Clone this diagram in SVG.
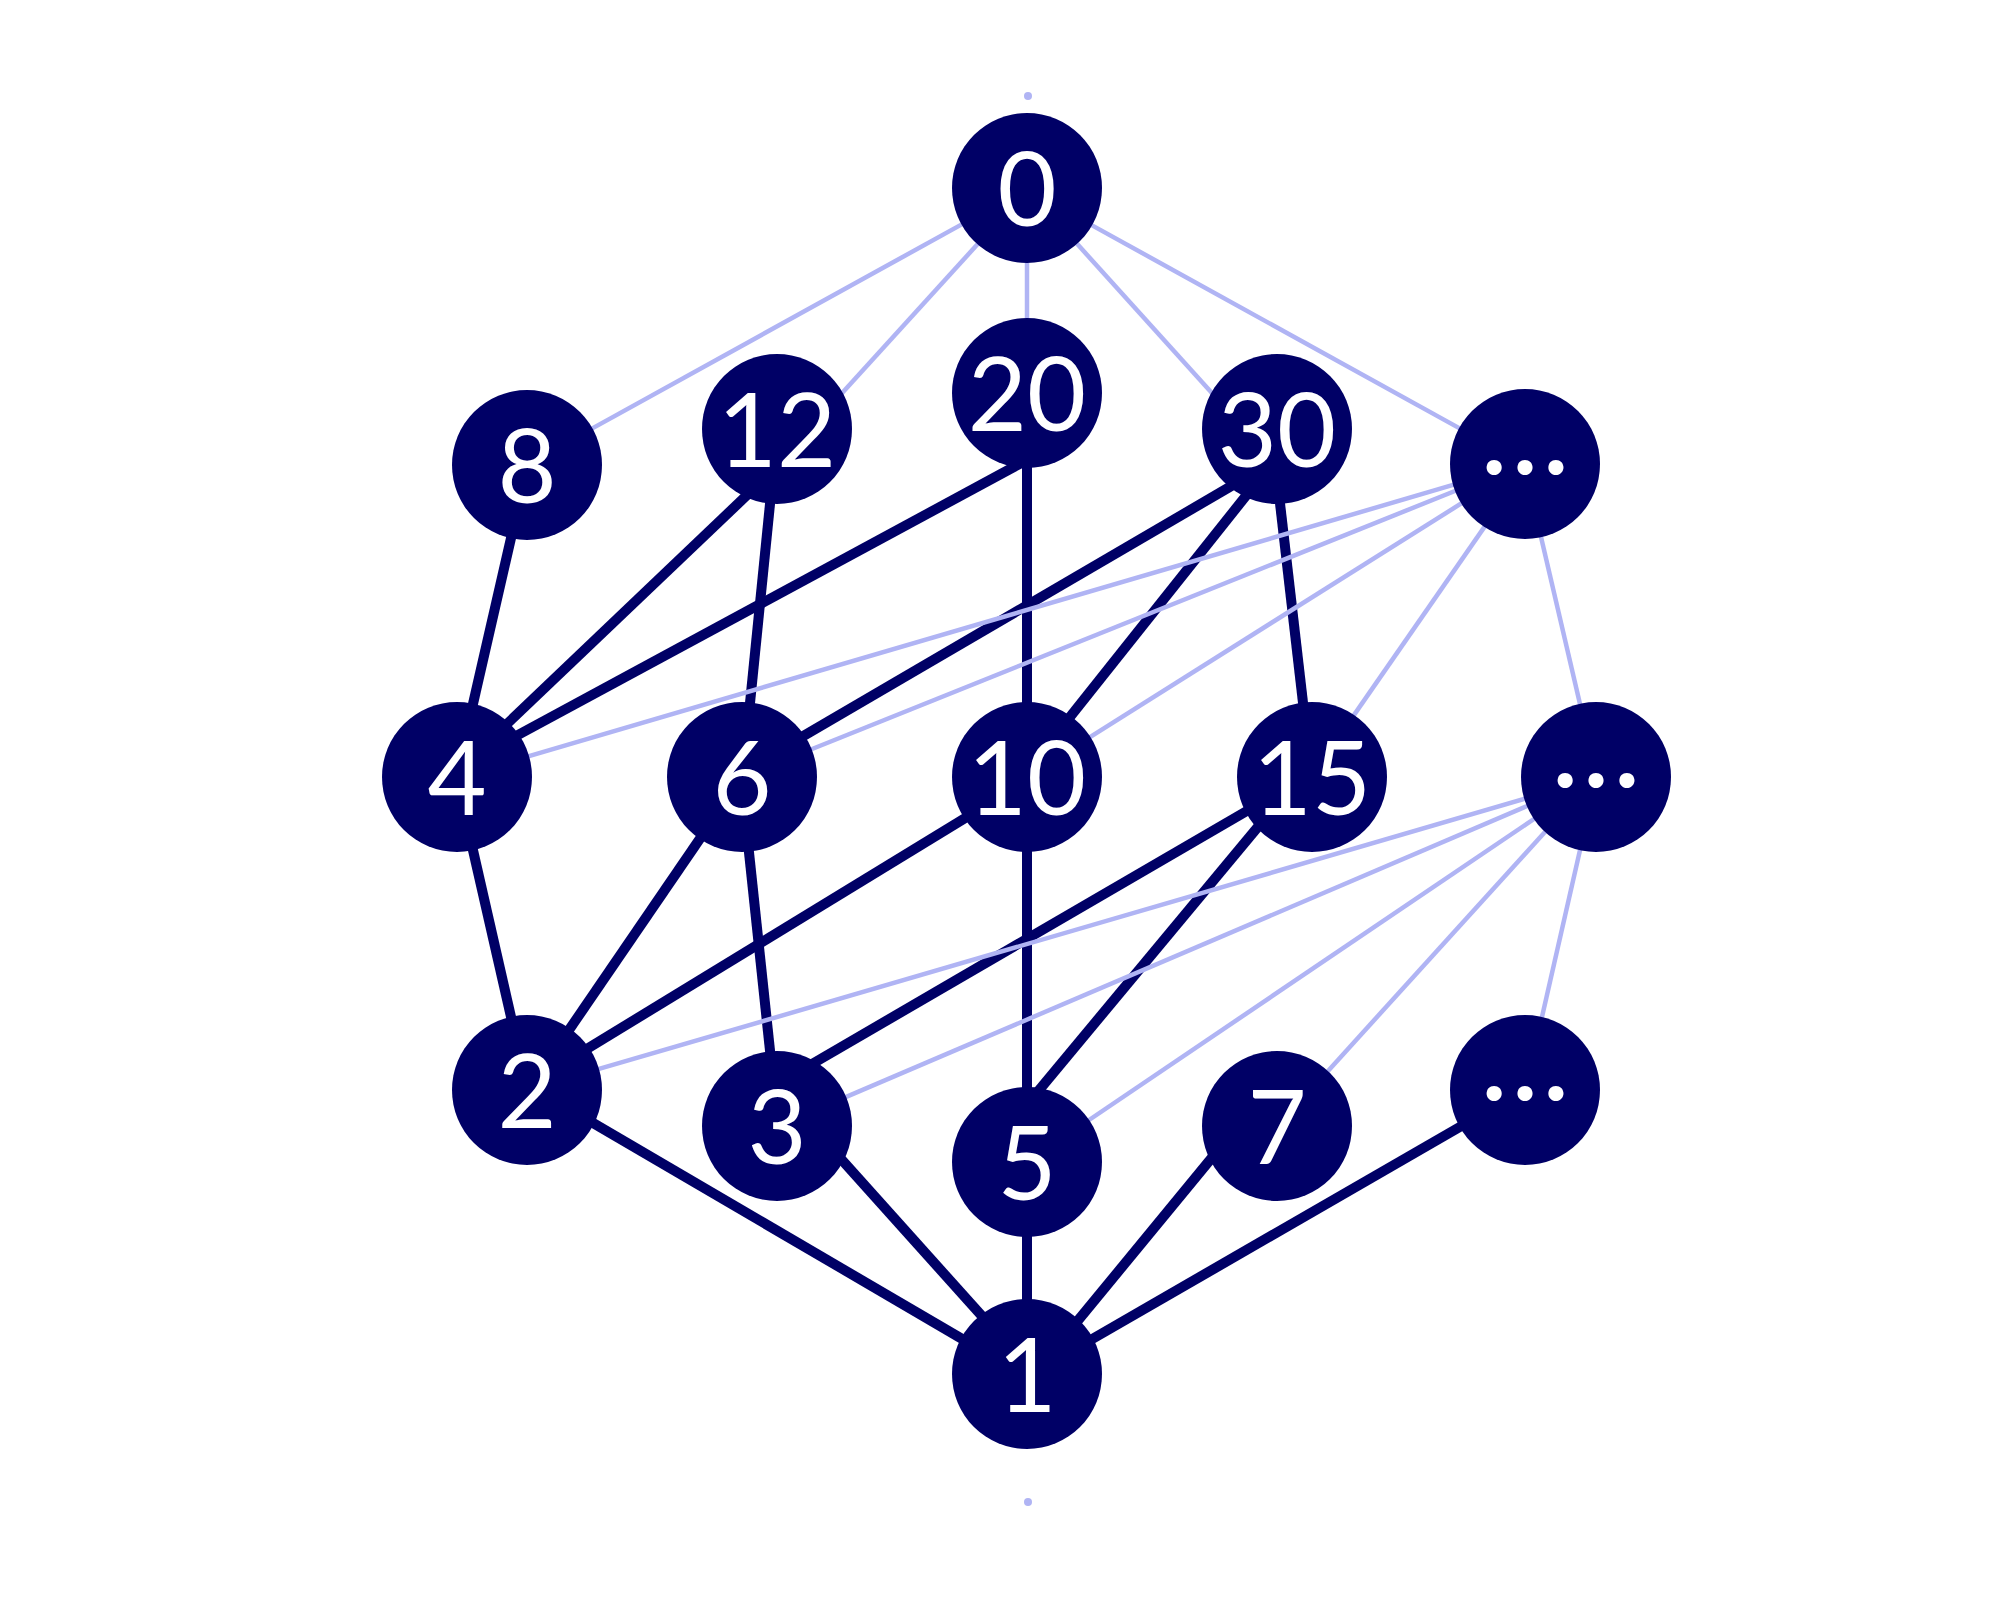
<svg xmlns="http://www.w3.org/2000/svg" width="2000" height="1600" viewBox="0 0 2000 1600">
<style>
.d{stroke:#000066;stroke-width:10;stroke-linecap:butt;fill:none}
.l{stroke:#b0b4f4;stroke-width:4.5;stroke-linecap:butt;fill:none}
.n circle{fill:#000066}
.n text{fill:#ffffff;font-family:Lato,"Liberation Sans",sans-serif;font-size:102px;text-anchor:middle}
.n text.e{font-size:120px}
.dot{fill:#b0b4f4}
</style>
<rect width="2000" height="1600" fill="#ffffff"/>
<circle class="dot" cx="1028" cy="96" r="4"/>
<circle class="dot" cx="1028" cy="1502" r="4"/>
<g id="connectors">
<path class="d" d="M513.7,526.3 L470.3,715.7"/>
<path class="d" d="M752.7,489.7 L500.3,730.3"/>
<path class="d" d="M771.2,492.1 L748.8,714.9"/>
<path class="d" d="M1022.6,462.3 L507.4,740.7"/>
<path class="d" d="M1027,456 L1027,714"/>
<path class="d" d="M1238.4,481.9 L794.6,741.1"/>
<path class="d" d="M1252.5,487.6 L1062.5,726.4"/>
<path class="d" d="M1278.6,491.1 L1304.4,714.9"/>
<path class="d" d="M470.3,838.3 L513.7,1028.7"/>
<path class="d" d="M705.8,830.1 L562.2,1039.9"/>
<path class="d" d="M747.7,840.1 L771.3,1062.9"/>
<path class="d" d="M972.2,813.7 L579.8,1053.3"/>
<path class="d" d="M1027,840 L1027,1099"/>
<path class="d" d="M1255.4,806 L808.6,1066"/>
<path class="d" d="M1264.7,818.8 L1032.3,1098.2"/>
<path class="d" d="M582.6,1116.9 L974.4,1346.1"/>
<path class="d" d="M834,1151.1 L989,1323.9"/>
<path class="d" d="M1027,1225 L1027,1311"/>
<path class="d" d="M1217.6,1150.7 L1072.4,1327.3"/>
<path class="d" d="M1468.4,1122 L1083.6,1344"/>
<path class="l" d="M964,223.1 L586,431.9"/>
<path class="l" d="M980.4,241.1 L837.6,397.9"/>
<path class="l" d="M1027,255 L1027,326"/>
<path class="l" d="M1074.6,241.1 L1216.4,397.9"/>
<path class="l" d="M1088,223.1 L1466,431.9"/>
<path class="l" d="M1460.7,482.7 L521.3,758.3"/>
<path class="l" d="M1462.4,488 L804.6,752"/>
<path class="l" d="M1468.8,498.7 L1083.2,741.3"/>
<path class="l" d="M1487.6,522.4 L1349.4,721.6"/>
<path class="l" d="M1539.2,529.2 L1581.8,711.8"/>
<path class="l" d="M1531.7,796.8 L591.3,1071.2"/>
<path class="l" d="M1534.4,802.9 L838.6,1100.1"/>
<path class="l" d="M1540.6,814.5 L1082.4,1124.5"/>
<path class="l" d="M1550.4,826.1 L1322.6,1076.9"/>
<path class="l" d="M1581.8,842.2 L1540.2,1024.8"/>
</g>
<g id="n0" class="n"><circle cx="1027" cy="188" r="75"/><text x="1027" y="226">0</text></g>
<g id="n8" class="n"><circle cx="527" cy="465" r="75"/><text x="527" y="503">8</text></g>
<g id="n12" class="n"><circle cx="777" cy="429" r="75"/><text x="777" y="467">12</text></g>
<g id="n20" class="n"><circle cx="1027" cy="393" r="75"/><text x="1027" y="431">20</text></g>
<g id="n30" class="n"><circle cx="1277" cy="429" r="75"/><text x="1277" y="467">30</text></g>
<g id="nTop" class="n"><circle cx="1525" cy="464" r="75"/><text class="e" x="1525" y="474">…</text></g>
<g id="n4" class="n"><circle cx="457" cy="777" r="75"/><text x="457" y="815">4</text></g>
<g id="n6" class="n"><circle cx="742" cy="777" r="75"/><text x="742" y="815">6</text></g>
<g id="n10" class="n"><circle cx="1027" cy="777" r="75"/><text x="1027" y="815">10</text></g>
<g id="n15" class="n"><circle cx="1312" cy="777" r="75"/><text x="1312" y="815">15</text></g>
<g id="nMid" class="n"><circle cx="1596" cy="777" r="75"/><text class="e" x="1596" y="787">…</text></g>
<g id="n2" class="n"><circle cx="527" cy="1090" r="75"/><text x="527" y="1128">2</text></g>
<g id="n3" class="n"><circle cx="777" cy="1126" r="75"/><text x="777" y="1164">3</text></g>
<g id="n5" class="n"><circle cx="1027" cy="1162" r="75"/><text x="1027" y="1200">5</text></g>
<g id="n7" class="n"><circle cx="1277" cy="1126" r="75"/><text x="1277" y="1164">7</text></g>
<g id="nBot" class="n"><circle cx="1525" cy="1090" r="75"/><text class="e" x="1525" y="1100">…</text></g>
<g id="n1" class="n"><circle cx="1027" cy="1374" r="75"/><text x="1027" y="1412">1</text></g>
</svg>
